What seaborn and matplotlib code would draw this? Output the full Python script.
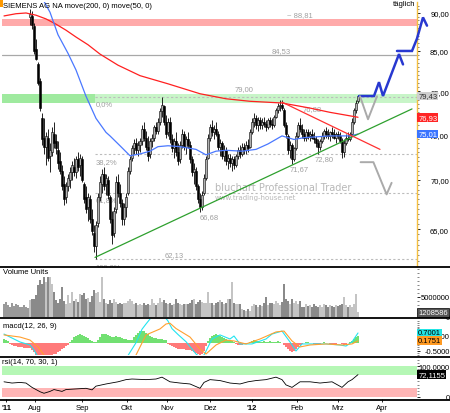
import numpy as np
import matplotlib
matplotlib.use("Agg")
import matplotlib.pyplot as plt
import matplotlib.transforms as mtrans
from matplotlib.lines import Line2D
from matplotlib.patches import Rectangle
from matplotlib.ticker import NullFormatter
import seaborn as sns

# ---------------- datos: velas diarias (barra 14 .. 178) ----------------
first_bar = 14
opens = [89.4, 89.6, 88.2, 85.2, 83.4, 81.2, 76.8, 74.6, 73.6, 74.6,
         72.6, 73.0, 75.0, 74.2, 73.2, 72.0, 71.0, 69.6, 68.2, 69.4,
         70.0, 70.8, 71.4, 70.8, 72.2, 71.6, 72.2, 69.6, 68.2, 67.2,
         68.0, 66.0, 64.6, 63.4, 65.6, 68.2, 69.6, 70.6, 69.6, 70.0,
         68.2, 66.0, 64.6, 67.0, 69.8, 68.6, 67.6, 66.0, 67.2, 68.6,
         71.0, 72.4, 73.4, 74.0, 73.2, 73.8, 74.2, 75.6, 74.6, 73.6,
         72.8, 74.2, 74.6, 75.8, 75.4, 76.4, 77.6, 78.2, 76.4, 75.2,
         76.4, 74.4, 73.4, 74.2, 73.0, 72.2, 73.8, 75.0, 73.6, 74.4,
         73.8, 72.2, 70.8, 71.0, 69.4, 68.0, 67.2, 68.6, 70.2, 72.4,
         74.6, 75.8, 75.2, 75.6, 75.0, 73.6, 74.0, 72.6, 73.2, 72.0,
         72.4, 71.8, 72.2, 71.6, 72.6, 73.2, 72.8, 73.6, 73.2, 73.8,
         73.6, 75.2, 76.4, 76.8, 76.0, 76.6, 76.0, 76.4, 76.2, 75.8,
         76.6, 76.2, 76.0, 77.0, 77.8, 78.2, 78.4, 77.8, 76.0, 74.8,
         73.2, 73.8, 72.2, 73.4, 74.8, 76.0, 75.6, 75.0, 74.6, 75.2,
         74.8, 75.0, 74.6, 74.4, 74.0, 73.6, 74.2, 74.8, 75.4, 75.0,
         74.8, 75.2, 75.0, 74.6, 75.0, 74.8, 74.2, 73.0, 74.0, 74.6,
         74.4, 75.0, 76.4, 77.8, 78.8]
highs = [90.6, 90.3, 88.6, 86.6, 83.6, 81.6, 77.4, 76.8, 75.2, 75.6,
         74.0, 75.8, 76.4, 75.0, 74.2, 73.0, 71.6, 70.4, 69.8, 70.6,
         71.4, 72.0, 72.4, 72.6, 73.0, 72.8, 72.6, 69.8, 69.4, 68.6,
         68.4, 67.0, 65.4, 65.8, 68.6, 70.4, 71.2, 71.4, 70.6, 70.4,
         68.4, 66.8, 67.2, 70.4, 70.6, 69.6, 68.0, 67.6, 68.6, 71.4,
         72.6, 73.8, 74.4, 74.6, 74.2, 74.6, 76.0, 76.4, 75.4, 74.8,
         74.6, 75.0, 76.0, 76.4, 76.8, 78.0, 79.3, 78.4, 77.2, 76.8,
         77.0, 75.0, 74.6, 75.2, 74.0, 74.2, 75.6, 75.4, 74.8, 75.2,
         74.2, 72.6, 71.8, 71.4, 69.6, 68.6, 68.8, 70.6, 72.6, 75.0,
         76.2, 76.6, 76.0, 76.4, 75.4, 74.4, 74.2, 73.8, 73.6, 72.8,
         72.8, 72.6, 72.6, 72.8, 73.6, 73.8, 74.0, 74.0, 74.2, 74.4,
         75.6, 76.8, 77.4, 77.2, 77.0, 77.0, 76.8, 77.0, 76.6, 76.8,
         77.0, 76.8, 77.2, 78.0, 78.6, 78.9, 79.0, 78.0, 76.4, 75.0,
         74.2, 74.0, 73.6, 75.2, 76.4, 76.8, 76.2, 75.6, 75.6, 75.6,
         75.4, 75.6, 75.2, 74.8, 74.4, 74.4, 75.2, 75.6, 75.8, 75.6,
         75.4, 75.8, 75.6, 75.2, 75.4, 75.2, 74.6, 74.4, 75.0, 75.2,
         75.2, 76.8, 78.0, 79.0, 79.6]
lows = [88.4, 87.9, 84.6, 83.8, 80.8, 77.6, 73.8, 72.8, 71.6, 72.0,
        70.8, 72.6, 73.4, 72.8, 71.2, 70.6, 69.0, 67.4, 67.6, 68.8,
        69.2, 70.0, 70.4, 70.2, 71.0, 70.4, 69.8, 67.6, 66.6, 65.8,
        65.6, 64.4, 62.8, 62.13, 65.2, 67.8, 68.6, 69.0, 68.4, 68.0,
        65.6, 63.6, 64.2, 66.6, 68.2, 67.2, 65.4, 65.4, 66.2, 68.4,
        70.6, 72.0, 72.8, 72.8, 72.6, 73.0, 73.8, 74.2, 73.2, 72.0,
        72.4, 73.6, 74.2, 75.0, 75.0, 76.0, 77.0, 76.0, 74.6, 74.8,
        74.0, 73.0, 72.4, 72.6, 71.6, 71.8, 73.4, 73.2, 72.8, 73.4,
        71.8, 70.4, 69.6, 69.0, 67.6, 66.68, 66.9, 68.4, 70.0, 72.2,
        74.2, 74.8, 74.4, 74.8, 73.2, 72.6, 72.2, 72.0, 71.6, 71.2,
        71.4, 71.0, 71.2, 71.4, 72.2, 72.4, 72.6, 72.8, 72.8, 73.0,
        73.4, 75.0, 75.8, 75.6, 75.4, 75.6, 75.6, 75.8, 75.4, 75.6,
        75.8, 75.6, 75.8, 76.8, 77.4, 77.6, 77.8, 75.8, 74.6, 72.8,
        72.4, 71.67, 72.0, 73.2, 74.6, 75.2, 74.6, 74.2, 74.2, 74.4,
        74.2, 74.4, 74.0, 73.6, 72.8, 73.2, 74.0, 74.4, 74.6, 74.4,
        74.2, 74.6, 74.4, 74.0, 74.4, 74.0, 72.4, 72.5, 73.8, 74.2,
        74.2, 74.8, 76.2, 77.4, 78.6]
closes = [89.8, 88.4, 85.0, 84.0, 81.0, 78.0, 74.4, 73.6, 74.8, 72.4,
          73.2, 75.2, 74.0, 73.4, 71.8, 71.0, 69.4, 68.0, 69.4, 70.2,
          70.8, 71.6, 70.8, 72.2, 71.4, 72.4, 70.0, 68.0, 67.0, 68.2,
          66.0, 64.8, 63.4, 65.4, 68.2, 69.8, 70.6, 69.4, 70.2, 68.4,
          66.0, 64.4, 66.8, 69.8, 68.6, 67.6, 66.0, 67.2, 68.2, 71.0,
          72.2, 73.4, 74.0, 73.2, 73.8, 74.2, 75.6, 74.6, 73.6, 72.6,
          74.2, 74.6, 75.8, 75.4, 76.4, 77.6, 78.4, 76.4, 75.0, 76.4,
          74.4, 73.4, 74.2, 73.0, 72.0, 73.8, 75.0, 73.6, 74.4, 73.8,
          72.2, 70.8, 71.2, 69.4, 68.0, 67.2, 68.4, 70.2, 72.2, 74.6,
          75.8, 75.2, 75.6, 75.0, 73.6, 74.0, 72.6, 73.2, 72.0, 72.4,
          71.8, 72.2, 71.6, 72.6, 73.2, 72.8, 73.6, 73.2, 73.8, 73.4,
          75.2, 76.4, 76.8, 76.0, 76.6, 76.0, 76.4, 76.2, 75.8, 76.6,
          76.2, 76.0, 77.0, 77.8, 78.2, 78.4, 78.0, 76.0, 75.0, 73.2,
          73.8, 72.2, 73.4, 74.8, 76.0, 75.6, 75.0, 74.6, 75.2, 74.8,
          75.0, 74.6, 74.4, 74.0, 73.6, 74.2, 74.8, 75.4, 75.0, 74.8,
          75.2, 75.0, 74.6, 75.0, 74.8, 74.2, 73.0, 74.0, 74.6, 74.4,
          75.0, 76.4, 77.8, 78.6, 79.43]

# medias moviles (barra, valor)
ma200_x = [1, 7, 12, 17, 22, 27, 32, 37, 43, 49, 58, 69, 83, 99, 112, 124, 140, 154, 164, 178]
ma200_y = [89.6, 89.9, 90.0, 89.7, 89.2, 88.5, 87.7, 86.8, 85.8, 84.6,
           83.2, 81.9, 80.9, 79.7, 79.1, 78.8, 78.6, 78.0, 77.5, 76.93]
ma50_x = [19, 24, 28, 33, 37, 42, 47, 52, 54, 59, 64, 69, 74, 78, 83,
          89, 97, 102, 107, 112, 120, 127, 133, 140, 146, 151, 164, 174, 178]
ma50_y = [92.6, 90.1, 87.1, 84.7, 82.6, 79.4, 76.8, 75.2, 74.8, 73.7, 72.6, 72.8, 73.1, 73.6, 73.7,
          73.6, 73.3, 72.7, 73.1, 73.2, 73.1, 73.3, 73.9, 74.8, 74.4, 74.6, 74.8, 74.8, 75.01]

# lineas dibujadas
support_x, support_y = [46.5, 205], [62.3, 77.9]
resist_x, resist_y = [140, 189], [78.7, 73.3]
fib_levels = [79.3, 72.74, 68.69, 62.13]
fib_names = ["0,0%", "38,2%", "61,8%", "100,0%"]
up1_x = [178.5, 186, 188.5, 190.5, 198.5, 200.5]
up1_y = [79.43, 79.43, 81.1, 79.43, 84.6, 83.3]
up2_x = [197.5, 205, 207.5, 210.5, 212.5]
up2_y = [85.0, 85.0, 86.6, 89.4, 88.3]
dn1_x = [179, 183, 187.5]
dn1_y = [79.4, 76.7, 79.4]
dn2_x = [179.3, 185.7, 192.3, 194.8]
dn2_y = [71.9, 71.9, 68.5, 69.7]

# volumen en millones (barra 1 .. 178)
volume = [3.3, 3.7, 3.0, 2.5, 3.4, 2.8, 3.2, 3.0, 2.6, 2.4,
          3.0, 2.6, 2.2, 4.2, 4.6, 4.4, 5.5, 8.0, 9.2, 8.3,
          10.0, 8.8, 10.0, 10.0, 8.3, 6.2, 4.2, 3.5, 4.5, 7.5,
          4.0, 3.2, 5.5, 3.4, 6.2, 4.0, 4.5, 3.7, 5.8, 5.4,
          6.0, 4.4, 4.8, 3.8, 5.2, 6.7, 6.0, 6.2, 3.8, 10.0,
          4.4, 3.6, 3.2, 4.2, 3.6, 4.4, 3.8, 3.2, 3.5, 3.2,
          3.5, 3.6, 4.0, 4.5, 3.9, 3.2, 3.5, 2.9, 3.3, 3.0,
          3.5, 3.0, 3.3, 2.9, 4.5, 3.5, 2.9, 3.6, 4.8, 3.8,
          4.2, 3.6, 3.2, 3.5, 2.9, 3.3, 4.5, 3.5, 3.2, 2.9,
          3.2, 3.3, 3.2, 3.5, 4.3, 4.6, 3.3, 3.8, 4.2, 3.8,
          3.4, 3.6, 6.2, 3.4, 3.6, 2.9, 3.6, 3.8, 4.2, 3.8,
          3.3, 3.6, 4.5, 4.5, 8.8, 3.5, 3.3, 3.2, 3.3, 2.0,
          1.8, 1.5, 2.0, 1.6, 2.8, 3.2, 2.9, 2.6, 3.0, 2.7,
          3.4, 5.0, 3.0, 3.5, 3.6, 3.2, 4.0, 3.4, 3.0, 3.8,
          8.2, 4.5, 4.0, 3.2, 4.4, 3.5, 4.0, 3.2, 4.0, 2.5,
          2.6, 3.2, 2.7, 3.0, 2.6, 3.3, 2.8, 2.6, 3.0, 2.6,
          3.2, 2.9, 2.6, 3.0, 2.8, 2.5, 3.0, 2.7, 2.9, 3.3,
          5.0, 3.0, 2.6, 3.0, 2.6, 3.2, 5.8, 1.208586]

# macd histograma (barra 1 .. 178)
macd_hist = [0.30, 0.25, 0.15, -0.05, -0.10, -0.15, -0.20, -0.22, -0.25, -0.25,
             -0.28, -0.30, -0.30, -0.32, -0.45, -0.60, -0.75, -0.85, -0.90, -0.90,
             -0.90, -0.90, -0.85, -0.80, -0.75, -0.72, -0.70, -0.60, -0.50, -0.40,
             -0.30, -0.20, -0.10, 0.10, 0.25, 0.40, 0.50, 0.55, 0.60, 0.55,
             0.50, 0.40, 0.35, 0.25, 0.15, 0.10, 0.10, 0.25, 0.45, 0.60,
             0.65, 0.60, 0.55, 0.50, 0.45, 0.45, 0.50, 0.45, 0.40, 0.35,
             0.30, 0.30, 0.25, 0.20, 0.25, 0.40, 0.55, 0.70, 0.80, 0.85,
             0.80, 0.70, 0.60, 0.50, 0.40, 0.35, 0.35, 0.30, 0.30, 0.30,
             0.25, 0.20, -0.05, -0.12, -0.20, -0.25, -0.30, -0.35, -0.38, -0.40,
             -0.40, -0.42, -0.45, -0.45, -0.50, -0.55, -0.62, -0.70, -0.75, -0.72,
             -0.50, -0.20, 0.15, 0.35, 0.50, 0.55, 0.60, 0.55, 0.50, 0.45,
             0.35, 0.30, 0.25, 0.20, 0.15, 0.10, -0.05, -0.10, -0.10, -0.10,
             -0.05, -0.05, 0.05, 0.10, 0.15, 0.20, 0.15, 0.15, 0.10, 0.10,
             0.15, 0.10, 0.10, 0.15, 0.10, 0.10, 0.10, 0.15, 0.10, 0.05,
             -0.10, -0.25, -0.40, -0.50, -0.55, -0.50, -0.40, -0.25, -0.10, -0.05,
             0.05, 0.10, 0.10, 0.05, 0.05, -0.05, -0.10, -0.10, -0.05, 0.05,
             0.10, 0.05, 0.05, -0.05, -0.05, -0.05, -0.05, 0.05, 0.05, -0.05,
             -0.10, -0.05, 0.05, 0.10, 0.15, 0.30, 0.42, 0.52]
macd_x = [1, 4, 9, 14, 16, 18, 22, 30, 40, 50, 58, 63, 67, 70, 72, 75, 80, 83, 85, 88,
          92, 97, 99, 101, 105, 109, 114, 116, 119, 125, 132, 135, 140, 144, 147, 150,
          155, 162, 169, 172, 175, 178]
macd_y = [0.63, 0.43, 0.10, -0.10, -0.43, -0.90, -1.8, -2.7, -2.2, -1.9, -1.4, -0.80, 0.05, 0.95,
          1.3, 1.8, 2.0, 1.5, 0.99, 0.6, 0.12, -0.70, -0.90, -0.77, 0.30, 0.57, 0.30, 0.50,
          -0.03, -0.03, 0.30, 0.63, 0.83, 0.10, -0.50, -0.03, -0.03, -0.03, -0.10, -0.17,
          0.10, 0.7001]
signal_x = [1, 9, 14, 18, 21, 30, 40, 50, 60, 67, 72, 79, 82, 84, 87, 94, 99, 102, 107,
            112, 116, 122, 129, 137, 141, 145, 149, 154, 162, 170, 175, 178]
signal_y = [0.57, 0.43, 0.23, -0.23, -0.77, -2.0, -2.6, -2.5, -1.7, -0.77, 0.57, 0.97, 1.3,
            1.35, 1.0, 0.43, -0.37, -0.70, -0.10, 0.23, 0.17, -0.03, 0.30, 0.77, 0.83, 0.17,
            -0.23, -0.10, -0.03, -0.10, -0.03, 0.1751]

# rsi (barra, valor)
rsi_x = [1, 5, 9, 12, 15, 19, 21, 24, 26, 30, 32, 37, 42, 45, 47, 52, 58, 62, 65, 72, 77,
         80, 84, 89, 94, 99, 101, 104, 109, 114, 119, 123, 127, 132, 137, 140, 142, 145,
         149, 154, 159, 165, 170, 173, 175, 178]
rsi_y = [49, 45, 47, 45, 31, 17, 12, 18, 24, 18, 24, 26, 28, 23, 35, 42, 49, 56, 58, 56, 58,
         64, 49, 45, 42, 28, 47, 56, 53, 45, 42, 49, 53, 56, 64, 56, 39, 31,
         49, 49, 45, 49, 31, 49, 56, 72.1155]

month_pos = [2, 16.5, 40, 62.5, 82.5, 104, 125, 147.5, 168, 190]
month_labels = ["'11", "Aug", "Sep", "Okt", "Nov", "Dez", "'12", "Feb", "Mrz", "Apr"]
price_ticks = [65, 70, 75, 80, 85, 90]
price_labels = ["65,00", "70,00", "75,00", "80,00", "85,00", "90,00"]

# ---------------- figura ----------------
sns.set_style("white")
plt.rcParams['font.family'] = ['Liberation Sans', 'DejaVu Sans']
plt.rcParams['text.color'] = 'black'

fig = plt.figure(figsize=(4.5, 4.14), dpi=100)


def rect(x0, y0, x1, y1):
    return [x0 / 450, 1 - y1 / 414, (x1 - x0) / 450, (y1 - y0) / 414]


ax = fig.add_axes(rect(2, 3, 417, 267))
ax_vol = fig.add_axes(rect(2, 269, 417, 318))
ax_macd = fig.add_axes(rect(2, 320, 417, 356))
ax_rsi = fig.add_axes(rect(2, 359, 417, 400))
XMAX = 207.5
FS = 5.5
GRAY_TXT = '#a0a0a0'

for a in (ax, ax_vol, ax_macd, ax_rsi):
    for s in a.spines.values():
        s.set_visible(False)
    a.yaxis.tick_right()
    a.tick_params(axis='x', bottom=False, labelbottom=False)
    a.set_xlim(0, XMAX)

# ---- panel principal ----
ax.set_yscale('log')
ax.axhspan(88.3, 89.2, color='#ffaaaa', lw=0, zorder=0)
ax.fill_between([0, 46.5], 78.6, 79.7, color='#9fea9f', lw=0, zorder=0)
ax.fill_between([46.5, XMAX], 78.6, 79.7, color='#c8f5c8', lw=0, zorder=0)
ax.axhline(84.53, color='#a8a8a8', lw=0.9, zorder=1)
for lvl, name in zip(fib_levels, fib_names):
    ax.plot([46.5, XMAX], [lvl, lvl], color='#bcbcbc', lw=0.8, ls=(0, (2, 2)), zorder=1)
    ax.text(46.8, lvl * 0.995, name, fontsize=FS, color=GRAY_TXT, va='top', ha='left', zorder=2)

o, h, l, c = map(np.array, (opens, highs, lows, closes))
bars = np.arange(first_bar, first_bar + len(c))
ax.vlines(bars, l, h, color='black', lw=0.6, zorder=3)
ax.bar(bars, np.maximum(np.abs(c - o), 0.06), bottom=np.minimum(o, c), width=0.9,
       color=np.where(c >= o, '#b0b0b0', '#000000'), edgecolor='black', linewidth=0.4, zorder=4)

sns.lineplot(x=ma200_x, y=ma200_y, ax=ax, color='#ff2020', lw=0.9, zorder=5, estimator=None)
sns.lineplot(x=ma50_x, y=ma50_y, ax=ax, color='#4a78ff', lw=0.9, zorder=5, estimator=None)
ax.plot(support_x, support_y, color='#2ea02e', lw=0.9, zorder=5)
ax.plot(resist_x, resist_y, color='#ff3030', lw=0.9, zorder=5)
ax.plot(up1_x, up1_y, color='#2838d0', lw=1.8, zorder=6, clip_on=False, solid_joinstyle='miter')
ax.plot(up2_x, up2_y, color='#2838d0', lw=1.8, zorder=6, clip_on=False, solid_joinstyle='miter')
ax.plot(dn1_x, dn1_y, color='#aaaaaa', lw=1.4, zorder=6)
ax.plot(dn2_x, dn2_y, color='#aaaaaa', lw=1.4, zorder=6)

level_labels = [(142.5, 89.8, "~ 88,81"), (135, 85.1, "84,53"), (116.5, 80.3, "79,00"),
                (150.5, 77.9, "76,88"), (156.5, 72.3, "72,80"), (144, 71.2, "71,67"),
                (99, 66.3, "66,68"), (81.5, 62.6, "62,13")]
for x, y, t in level_labels:
    ax.text(x, y, t, fontsize=FS, color=GRAY_TXT, va='center', ha='left', zorder=2)

ax.text(0.513, 0.301, "bluchart Professional Trader", transform=ax.transAxes, fontsize=7,
        family='DejaVu Sans', color='#b8b8b8', va='center', ha='left', zorder=2)
ax.text(0.513, 0.261, "www.trading-house.net", transform=ax.transAxes, fontsize=5.0,
        family='DejaVu Sans', color='#b8b8b8', va='center', ha='left', zorder=2)
ax.text(0.002, 0.988, "SIEMENS AG NA move(200, 0) move(50, 0)", transform=ax.transAxes,
        fontsize=FS, va='center', ha='left', color='black', zorder=7)
ax.text(0.942, 0.994, "täglich", transform=ax.transAxes, fontsize=FS, va='center', ha='left')

ax.set_ylim(61.5, 91.5)
ax.set_yticks(price_ticks)
ax.set_yticklabels(price_labels)
ax.set_yticks(np.arange(62, 91.5, 0.5), minor=True)
ax.yaxis.set_minor_formatter(NullFormatter())
ax.tick_params(axis='y', which='major', right=True, length=2.5, width=0.6, pad=20.5,
               labelsize=FS, colors='black')
ax.tick_params(axis='y', which='minor', right=True, length=1.3, width=0.5, colors='#555555')
ax.spines['right'].set_visible(True)
ax.spines['right'].set_color('#f5c040')
ax.spines['right'].set_linewidth(1.0)

tr = mtrans.blended_transform_factory(ax.transAxes, ax.transData)
for val, txt, fc, tc in [(79.43, "79,43", '#cfcfcf', '#303030'), (76.93, "76,93", '#ff2525', 'white'),
                         (75.01, "75,01", '#3a74ff', 'white')]:
    ax.text(1.003, val, txt, transform=tr, fontsize=FS, color=tc, va='center', ha='left', zorder=8,
            clip_on=False, bbox=dict(boxstyle='square,pad=0.12', fc=fc, ec='none'))

# ---- volumen ----
vol_bars = np.arange(1, 1 + len(volume))
vol_up = {b: cc >= oo for b, cc, oo in zip(bars, c, o)}
vol_colors = [('#c4c4c4' if vol_up[b] else '#8a8a8a') if b in vol_up else '#9a9a9a' for b in vol_bars]
ax_vol.bar(vol_bars, volume, width=0.55, color=vol_colors, lw=0)
ax_vol.set_ylim(0, 12.25)
ax_vol.set_yticks([0, 5])
ax_vol.set_yticklabels(["0", "5000000"])
ax_vol.set_yticks(np.arange(0, 12.5, 1), minor=True)
ax_vol.text(0.002, 0.93, "Volume Units", transform=ax_vol.transAxes, fontsize=FS, va='center')
trv = mtrans.blended_transform_factory(ax_vol.transAxes, ax_vol.transData)
ax_vol.text(1.003, volume[-1], "1208586", transform=trv, fontsize=FS, color='white', va='center',
            ha='left', clip_on=False, zorder=8,
            bbox=dict(boxstyle='square,pad=0.12', fc='#555555', ec='black', lw=0.5))

# ---- macd ----
ax_macd.bar(np.arange(1, 1 + len(macd_hist)), macd_hist, width=0.55,
            color=['#72e072' if v >= 0 else '#ff7a7a' for v in macd_hist], lw=0)
sns.lineplot(x=macd_x, y=macd_y, ax=ax_macd, color='#22e4f0', lw=0.8, estimator=None)
sns.lineplot(x=signal_x, y=signal_y, ax=ax_macd, color='#ffa030', lw=0.8, estimator=None)
ax_macd.set_ylim(-0.767, 1.633)
ax_macd.set_yticks([-0.5, 0.5])
ax_macd.set_yticklabels(["-0.5000", "0.5000"])
ax_macd.set_yticks(np.arange(-0.75, 1.6, 0.125), minor=True)
ax_macd.text(0.002, 0.82, "macd(12, 26, 9)", transform=ax_macd.transAxes, fontsize=FS, va='center')
trm = mtrans.blended_transform_factory(ax_macd.transAxes, ax_macd.transData)
for val, txt, fc in [(0.7001, "0.7001", '#22e4e4'), (0.1751, "0.1751", '#ff9a22')]:
    ax_macd.text(1.003, val, txt, transform=trm, fontsize=FS, color='black', va='center', ha='left',
                 clip_on=False, zorder=8, bbox=dict(boxstyle='square,pad=0.12', fc=fc, ec='none'))

# ---- rsi ----
ax_rsi.axhspan(70, 100, color='#b5f7b5', lw=0, zorder=0)
ax_rsi.axhspan(0, 30, color='#ffb5b5', lw=0, zorder=0)
sns.lineplot(x=rsi_x, y=rsi_y, ax=ax_rsi, color='black', lw=0.6, estimator=None)
ax_rsi.set_ylim(-6.5, 125.8)
ax_rsi.set_yticks([0, 100])
ax_rsi.set_yticklabels(["0", "100,0000"])
ax_rsi.set_yticks(np.arange(0, 121, 10), minor=True)
ax_rsi.text(0.0, 0.915, "rsi(14, 70, 30, 1)", transform=ax_rsi.transAxes, fontsize=FS, va='center')
trr = mtrans.blended_transform_factory(ax_rsi.transAxes, ax_rsi.transData)
ax_rsi.text(1.003, rsi_y[-1], "72,1155", transform=trr, fontsize=FS, color='white', va='center',
            ha='left', clip_on=False, zorder=8, bbox=dict(boxstyle='square,pad=0.12', fc='black', ec='none'))
ax_rsi.set_xticks(month_pos)
ax_rsi.set_xticklabels(month_labels)
ax_rsi.tick_params(axis='x', bottom=True, labelbottom=True, length=2, width=0.6, pad=1.5,
                   labelsize=FS, colors='black')
for lbl in ax_rsi.get_xticklabels():
    if lbl.get_text().startswith("'"):
        lbl.set_fontweight('bold')

for a in (ax_vol, ax_macd, ax_rsi):
    a.set_xlim(0, XMAX)
    a.tick_params(axis='y', which='major', right=True, length=2, width=0.6, pad=21.5,
                  labelsize=FS, colors='black')
    a.tick_params(axis='y', which='minor', right=True, length=1.2, width=0.5, colors='#555555')
    a.yaxis.set_minor_formatter(NullFormatter())
    a.set_xlabel("")
    a.set_ylabel("")
ax.set_xlim(0, XMAX)
ax.set_xlabel("")
ax.set_ylabel("")
for a in (ax, ax_vol, ax_macd, ax_rsi):
    plt.setp(a.get_yticklabels(), ha='right')

# separadores de paneles
for ypx in (268, 319, 357.5, 401):
    fig.add_artist(Line2D([0, 1], [1 - ypx / 414] * 2, color='black', lw=1.3))
fig.add_artist(Rectangle((0, 1 - 8 / 414), 2.5 / 450, 8 / 414, transform=fig.transFigure,
                         color='#ff9900', lw=0))

fig.savefig("out.png", dpi=100)
